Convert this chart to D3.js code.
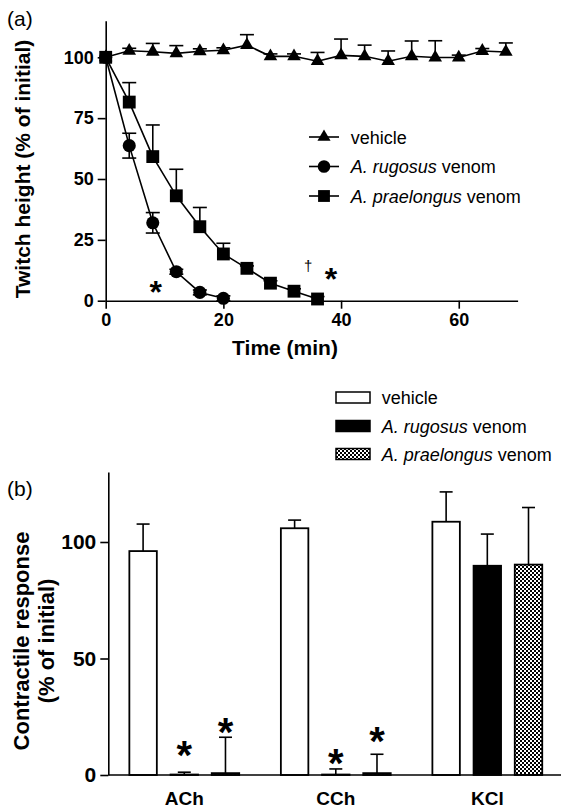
<!DOCTYPE html>
<html><head><meta charset="utf-8">
<script src="https://cdn.jsdelivr.net/npm/d3@7"></script>
<style>
body{margin:0;background:#fff}
text{font-family:"Liberation Sans",Arial,Helvetica,sans-serif;fill:#000}
</style>
</head><body>
<svg id="c" width="561" height="810" xmlns="http://www.w3.org/2000/svg"></svg>
<script>
// ---------- Panel (a) data ----------
const timesVehicle = [0,4,8,12,16,20,24,28,32,36,40,44,48,52,56,60,64,68];
const vehicleA     = [100,102.7,102.3,101.6,102.5,102.9,105,100.4,100.4,98.4,100.8,100.4,98.4,100.4,99.9,99.9,102.6,102.2];
const vehicleAErr  = [0,1,3.4,3.2,1,1,4.3,1,1,3.6,6.7,4.6,4.2,6.3,6.9,1,1,3.7];
const timesRugosus = [0,4,8,12,16,20];
const rugosusA     = [100,63.7,32.0,11.9,3.4,1.0];
const rugosusAErr  = [0,5.1,4.2,1,1,1];
const timesPraelongus = [0,4,8,12,16,20,24,28,32,36];
const praelongusA     = [100,81.6,59.2,43.1,30.4,19.2,13.3,7.2,3.9,0.7];
const praelongusAErr  = [0,8.0,13.0,10.9,7.9,4.4,1,1,1,1];
const xTicksA = [0,20,40,60];
const yTicksA = [0,25,50,75,100];
const annotationsA = [
  {t:8.5, v:6.4, text:"*", kind:"star"},
  {t:34.4, v:14, text:"\u2020", kind:"dagger"},
  {t:38.3, v:11.9, text:"*", kind:"star"}
];

// ---------- Panel (b) data ----------
const agonists   = ["ACh","CCh","KCl"];
const treatments = ["vehicle","A. rugosus venom","A. praelongus venom"];
const vehicleB       = [96.1,105.9,108.7];
const vehicleBErr    = [11.6,3.5,12.8];
const rugosusB       = [0.2,0.2,89.8];
const rugosusBErr    = [1.0,2.4,13.6];
const praelongusB    = [0.8,0.8,90.3];
const praelongusBErr = [15.4,8.1,24.5];
const yTicksB = [0,50,100];
const starsB = [
  {g:"ACh", s:"A. rugosus venom", v:12.4},
  {g:"ACh", s:"A. praelongus venom", v:22.2},
  {g:"CCh", s:"A. rugosus venom", v:8.6},
  {g:"CCh", s:"A. praelongus venom", v:18.3}
];

const svg = d3.select("#c");
const FONT = '"Liberation Sans",Arial,Helvetica,sans-serif';

// pattern
const defs = svg.append("defs");
const pat = defs.append("pattern").attr("id","checker").attr("patternUnits","userSpaceOnUse")
  .attr("width",4).attr("height",4);
pat.append("rect").attr("width",4).attr("height",4).attr("fill","#fff");
pat.append("rect").attr("x",0).attr("y",0).attr("width",2).attr("height",2).attr("fill","#000");
pat.append("rect").attr("x",2).attr("y",2).attr("width",2).attr("height",2).attr("fill","#000");

// ================= Panel (a) =================
const xA = d3.scaleLinear([0,70],[105.7,517.6]);
const yA = d3.scaleLinear([0,115],[300.7,300.7-115*2.434]);

svg.append("text").attr("x",7).attr("y",26).attr("font-size",21).text("(a)");

const gA = svg.append("g");
const axYA = gA.append("g").attr("transform",`translate(${xA(0)},0)`)
  .call(d3.axisLeft(yA).tickValues(yTicksA).tickSize(8).tickSizeOuter(0).tickPadding(4));
const axXA = gA.append("g").attr("transform",`translate(0,${yA(0)})`)
  .call(d3.axisBottom(xA).tickValues(xTicksA).tickSize(8).tickSizeOuter(0).tickPadding(5));
[axYA,axXA].forEach(a=>{
  a.selectAll("path,line").attr("stroke","#000").attr("stroke-width",1.6);
  a.selectAll("text").attr("font-size",18).attr("font-weight","bold").attr("font-family",FONT).attr("fill","#000");
});

gA.append("text").attr("font-size",21).attr("font-weight","bold")
  .attr("text-anchor","middle")
  .attr("transform",`translate(30,169) rotate(-90)`)
  .text("Twitch height (% of initial)");
gA.append("text").attr("font-size",21).attr("font-weight","bold")
  .attr("text-anchor","middle").attr("x",285).attr("y",355).text("Time (min)");

const seriesA = [
  {t:timesVehicle, v:vehicleA, e:vehicleAErr, sym:d3.symbolTriangle, size:80, both:false},
  {t:timesRugosus, v:rugosusA, e:rugosusAErr, sym:d3.symbolCircle, size:135, both:true},
  {t:timesPraelongus, v:praelongusA, e:praelongusAErr, sym:d3.symbolSquare, size:165, both:false}
];
const line = d3.line().x(d=>xA(d.t)).y(d=>yA(d.v));
seriesA.forEach(s=>{
  const pts = s.t.map((t,i)=>({t, v:s.v[i], e:s.e[i]}));
  const g = gA.append("g");
  pts.forEach(p=>{
    if(!p.e) return;
    const x = xA(p.t);
    const ends = s.both ? [p.v+p.e, p.v-p.e] : [p.v+p.e];
    ends.forEach(ev=>{
      g.append("line").attr("x1",x).attr("x2",x).attr("y1",yA(p.v)).attr("y2",yA(ev))
        .attr("stroke","#000").attr("stroke-width",1.6);
      g.append("line").attr("x1",x-7).attr("x2",x+7).attr("y1",yA(ev)).attr("y2",yA(ev))
        .attr("stroke","#000").attr("stroke-width",1.6);
    });
  });
  g.append("path").attr("d",line(pts)).attr("fill","none").attr("stroke","#000").attr("stroke-width",1.6);
  g.selectAll("path.m").data(pts).join("path").attr("class","m")
    .attr("transform",d=>`translate(${xA(d.t)},${yA(d.v)})`)
    .attr("d",d3.symbol(s.sym,s.size)).attr("fill","#000");
});

annotationsA.forEach(a=>{
  const star = a.kind==="star";
  gA.append("text").attr("x",xA(a.t)).attr("y",yA(a.v)).attr("text-anchor","middle")
    .attr("font-size",star?32:15).attr("font-weight",star?"bold":"normal")
    .attr("font-family",star?FONT:'"DejaVu Sans",sans-serif').attr("fill","#000")
    .attr("dy",star?"0.56em":"0.3em").text(a.text);
});

// legend a
const legA = [
  {sym:d3.symbolTriangle,size:75, it:"", rest:"vehicle", y:137},
  {sym:d3.symbolCircle,size:125, it:"A. rugosus", rest:" venom", y:166.5},
  {sym:d3.symbolSquare,size:140, it:"A. praelongus", rest:" venom", y:196}
];
legA.forEach(l=>{
  const g = gA.append("g");
  g.append("line").attr("x1",309).attr("x2",339).attr("y1",l.y).attr("y2",l.y).attr("stroke","#000").attr("stroke-width",1.6);
  g.append("path").attr("transform",`translate(324,${l.y})`).attr("d",d3.symbol(l.sym,l.size)).attr("fill","#000");
  const t = g.append("text").attr("x",350.7).attr("y",l.y+6.5).attr("font-size",18);
  if(l.it) t.append("tspan").attr("font-style","italic").text(l.it);
  t.append("tspan").text(l.rest);
});

// ================= Panel (b) =================
const x0 = d3.scaleBand(agonists,[108.3,563.3]).paddingInner(0.275).paddingOuter(0.139);
const x1 = d3.scaleBand(treatments,[0,x0.bandwidth()]).paddingInner(0.333);
const yB = d3.scaleLinear([0,130],[775,775-130*2.33]);

svg.append("text").attr("x",7).attr("y",496).attr("font-size",21).text("(b)");

const gB = svg.append("g");
const fills = {"vehicle":"#fff","A. rugosus venom":"#000","A. praelongus venom":"url(#checker)"};
const valuesB = {"vehicle":[vehicleB,vehicleBErr],"A. rugosus venom":[rugosusB,rugosusBErr],"A. praelongus venom":[praelongusB,praelongusBErr]};

agonists.forEach((a,ai)=>{
  treatments.forEach(tr=>{
    const v = valuesB[tr][0][ai], e = valuesB[tr][1][ai];
    const x = x0(a)+x1(tr), w = x1.bandwidth(), cx = x+w/2;
    gB.append("line").attr("x1",cx).attr("x2",cx).attr("y1",yB(v)).attr("y2",yB(v+e)).attr("stroke","#000").attr("stroke-width",1.6);
    gB.append("line").attr("x1",cx-6.5).attr("x2",cx+6.5).attr("y1",yB(v+e)).attr("y2",yB(v+e)).attr("stroke","#000").attr("stroke-width",1.6);
    gB.append("rect").attr("x",x).attr("y",yB(v)).attr("width",w).attr("height",Math.max(0,yB(0)-yB(v)))
      .attr("fill",fills[tr]).attr("stroke","#000").attr("stroke-width",1.8);
  });
});

const axYB = gB.append("g").attr("transform",`translate(${x0.range()[0]},0)`)
  .call(d3.axisLeft(yB).tickValues(yTicksB).tickSize(8).tickSizeOuter(0).tickPadding(4));
const axXB = gB.append("g").attr("transform",`translate(0,${yB(0)})`)
  .call(d3.axisBottom(x0).tickSize(0).tickSizeOuter(0).tickPadding(17));
axXB.select(".domain").attr("d",`M${x0.range()[0]},0H561`);
[axYB,axXB].forEach(a=>{
  a.selectAll("path,line").attr("stroke","#000").attr("stroke-width",1.6);
  a.selectAll("text").attr("font-weight","bold").attr("font-family",FONT).attr("fill","#000");
});
axYB.selectAll("text").attr("font-size",21);
axXB.selectAll("text").attr("font-size",19);

starsB.forEach(s=>{
  gB.append("text").attr("x",x0(s.g)+x1(s.s)+x1.bandwidth()/2).attr("y",yB(s.v))
    .attr("text-anchor","middle").attr("font-size",40).attr("font-weight","bold").attr("dy","0.56em").text("*");
});

const yl = gB.append("text").attr("font-size",22).attr("font-weight","bold").attr("text-anchor","middle")
  .attr("transform","translate(0,641) rotate(-90)");
yl.append("tspan").attr("x",0).attr("y",29).text("Contractile response");
yl.append("tspan").attr("x",0).attr("y",54).text("(% of initial)");

// legend b
const legB = [
  {fill:"#fff", it:"", rest:"vehicle", y:397.5},
  {fill:"#000", it:"A. rugosus", rest:" venom", y:426},
  {fill:"url(#checker)", it:"A. praelongus", rest:" venom", y:454}
];
legB.forEach(l=>{
  gB.append("rect").attr("x",336).attr("y",l.y-5.5).attr("width",34).attr("height",11)
    .attr("fill",l.fill).attr("stroke","#000").attr("stroke-width",1.5);
  const t = gB.append("text").attr("x",381.7).attr("y",l.y+6.5).attr("font-size",18);
  if(l.it) t.append("tspan").attr("font-style","italic").text(l.it);
  t.append("tspan").text(l.rest);
});
</script>
</body></html>
